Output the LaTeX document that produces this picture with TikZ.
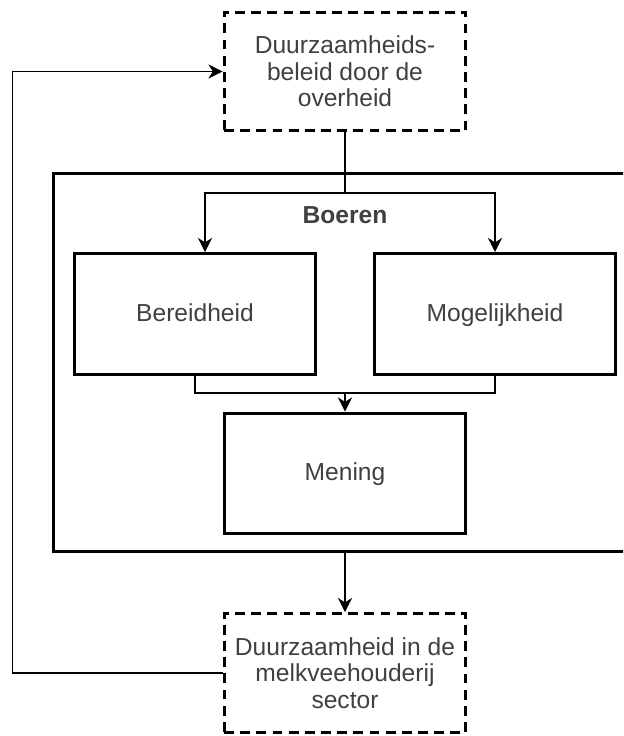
\documentclass[tikz,border=0pt]{standalone}
\usepackage{fontspec}
\setmainfont{Liberation Sans}
\usetikzlibrary{arrows.meta}
\definecolor{textgray}{HTML}{404040}

\begin{document}
\begin{tikzpicture}[x=0.02cm, y=-0.02cm,
    block/.style={rectangle, draw, line width=1.7pt, minimum width=4.84cm, minimum height=2.42cm,
                  text=textgray, align=center, font=\fontsize{14}{15}\selectfont},
    dashblock/.style={block, dash pattern=on 5.6pt off 3.6pt, minimum height=2.38cm},
    link/.style={line width=1pt, -{Stealth[length=8pt, width=8pt, inset=2.5pt]}}]

    \newcommand*{\midx}{345}%
    \newcommand*{\leftx}{195}%
    \newcommand*{\rightx}{495}%

    \clip (0,0) rectangle (623,736);

    % outer group
    \node [rectangle, draw, line width=1.7pt, minimum width=11.68cm, minimum height=7.58cm] (boeren) at (\midx,362.5) {};
    \node [text=textgray, font=\fontsize{14}{15}\selectfont\bfseries] (boerenlbl) at (\midx,215) {Boeren};

    % blocks
    \node [dashblock] (beleid) at (\midx,71.5) {Duurzaamheids-\\beleid door de\\overheid};
    \node [block, text height=10pt, text depth=2pt] (bereid) at (\leftx,314) {Bereidheid};
    \node [block, text height=10pt, text depth=2pt] (mogelijk) at (\rightx,314) {Mogelijkheid};
    \node [block, text height=10pt, text depth=2pt] (mening) at (\midx,473.5) {Mening};
    \node [dashblock] (sector) at (\midx,673) {Duurzaamheid in de\\melkveehouderij\\sector};

    % split ↓
    \coordinate (split) at (\midx,193);
    \draw [line width=1pt] (beleid.south) -- (split);
    \draw [link] (split) -| ([xshift=0.2cm]bereid.north);
    \draw [link] (split) -| (mogelijk.north);

    % merge ↓
    \coordinate (merge) at (\midx,393);
    \draw [line width=1pt] (bereid.south) |- (merge) -| (mogelijk.south);
    \draw [link] (merge) -- (mening.north);

    \draw [link] (boeren.south) -- (sector.north);

    % feedback loop
    \draw [link] (sector.west) -- ++(-210,0) |- (beleid.west);

\end{tikzpicture}
\end{document}
